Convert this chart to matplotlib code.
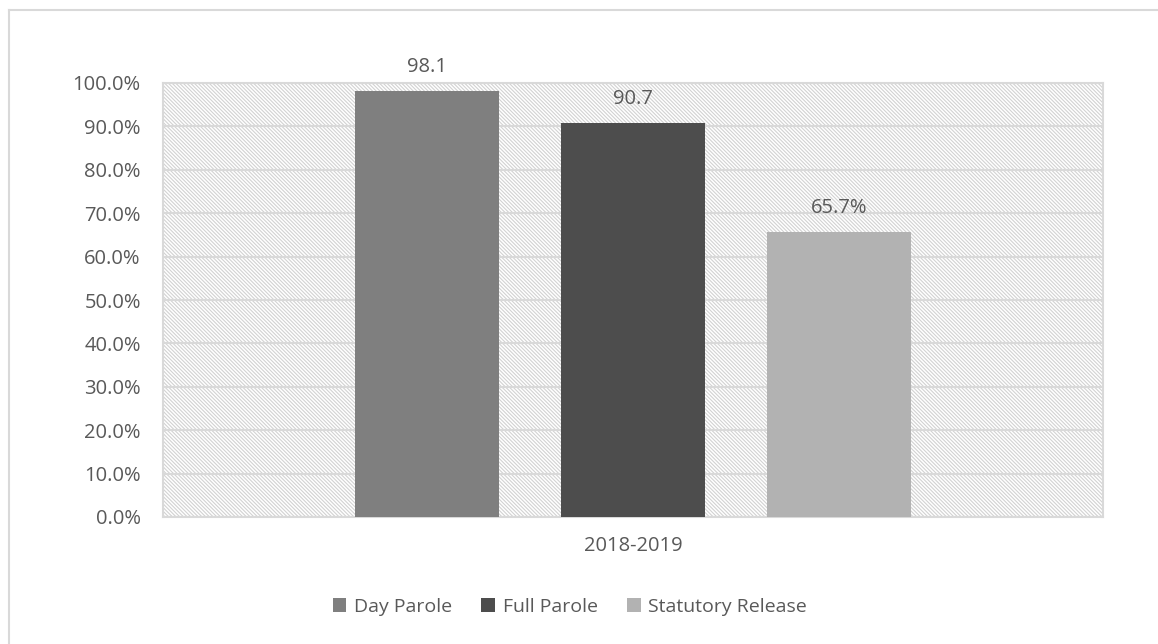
import matplotlib.pyplot as plt
from matplotlib.lines import Line2D
from matplotlib.patches import Rectangle
from matplotlib.ticker import FuncFormatter, MultipleLocator

plt.rcParams['font.family'] = ['Open Sans', 'DejaVu Sans']
plt.rcParams['hatch.linewidth'] = 0.8

category = '2018-2019'
series = ['Day Parole', 'Full Parole', 'Statutory Release']
values = [98.1, 90.7, 65.7]
labels = ['98.1', '90.7', '65.7%']
colors = ['#7f7f7f', '#4d4d4d', '#b2b2b2']

text_color = '#595959'
grid_color = '#d9d9d9'

fig = plt.figure(figsize=(11.58, 6.44), dpi=100)

# outer chart frame: only top and left edges are visible in the picture
x0, y0 = 8.5 / 1158, 1 - 9.5 / 644
fig.lines.append(Line2D([x0, 1.0], [y0, y0], transform=fig.transFigure,
                        color=grid_color, linewidth=1.5))
fig.lines.append(Line2D([x0, x0], [0.0, y0], transform=fig.transFigure,
                        color=grid_color, linewidth=1.5))

ax = fig.add_axes([163 / 1158, 1 - 517 / 644, 940 / 1158, 434 / 644])

# hatched plot area
ax.add_patch(Rectangle((0, 0), 1, 1, transform=ax.transAxes, facecolor='white',
                       edgecolor='#d2d2d2', linewidth=0, hatch='\\' * 9, zorder=0))

width = 144 / 940
step = 206 / 940
offsets = [-step, 0, step]
for name, v, lab, c, off in zip(series, values, labels, colors, offsets):
    ax.bar(off, v, width=width, color=c, label=name, zorder=3)
    ax.annotate(lab, (off, v), xytext=(0, 10), textcoords='offset points',
                ha='center', va='bottom', fontsize=14.5, color=text_color)

ax.set_xlim(-0.5, 0.5)
ax.set_ylim(0, 100)
ax.yaxis.set_major_locator(MultipleLocator(10))
ax.yaxis.set_major_formatter(FuncFormatter(lambda y, p: '%.1f%%' % y))
ax.set_xticks([0])
ax.set_xticklabels([category])
ax.tick_params(axis='both', length=0, labelsize=14.5, labelcolor=text_color)
ax.tick_params(axis='x', pad=14)
ax.tick_params(axis='y', pad=16)
ax.grid(axis='y', color=grid_color, linewidth=1.5, zorder=1)
ax.set_axisbelow(True)
for s in ax.spines.values():
    s.set_color(grid_color)
    s.set_linewidth(1.5)

fig.legend(loc='center', bbox_to_anchor=(570 / 1158, 1 - 607 / 644), ncol=3,
           frameon=False, fontsize=14, labelcolor=text_color,
           handlelength=0.7, handleheight=0.7, handletextpad=0.4, columnspacing=1.5)

fig.savefig('out.png', dpi=100)
